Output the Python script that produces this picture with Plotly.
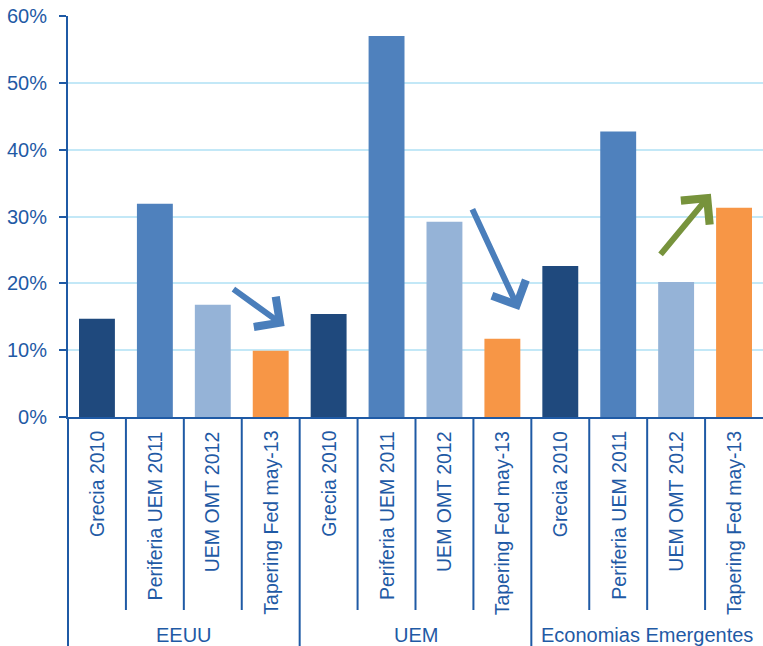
import plotly.graph_objects as go

# Regions and stress episodes shown on the category axis
regions = ["EEUU", "UEM", "Economias Emergentes"]
episodes = ["Grecia 2010", "Periferia UEM 2011", "UEM OMT 2012", "Tapering Fed may-13"]

# Values (share, 0-1) per episode, ordered by region
grecia_2010 = [0.147, 0.154, 0.226]
periferia_2011 = [0.319, 0.570, 0.427]
omt_2012 = [0.168, 0.292, 0.202]
tapering_2013 = [0.099, 0.117, 0.313]

y_ticks = [0, 0.1, 0.2, 0.3, 0.4, 0.5, 0.6]
y_tick_text = ["0%", "10%", "20%", "30%", "40%", "50%", "60%"]

episode_colors = ["#1F497D", "#4F81BD", "#95B3D7", "#F79646"]

# Trend arrows: (tail x, tail y, head x, head y, colour)
arrows = [
    (2.33, 0.193, 3.24, 0.136, "#4A7EBB"),
    (6.47, 0.313, 7.29, 0.160, "#4A7EBB"),
    (9.71, 0.241, 10.60, 0.334, "#77933C"),
]

AXIS = "#1F5AA5"
TEXT = "#1F5AA5"
FONT = "Liberation Sans, Arial, sans-serif"

n_ep = len(episodes)
series = [grecia_2010, periferia_2011, omt_2012, tapering_2013]

fig = go.Figure()
for e, (name, vals) in enumerate(zip(episodes, series)):
    fig.add_trace(go.Bar(
        x=[r * n_ep + e for r in range(len(regions))],
        y=vals,
        name=name,
        width=0.62,
        marker=dict(color=episode_colors[e], line=dict(width=0)),
        showlegend=False,
    ))

# Pixel geometry of the plot area
W, H = 763, 646
ml, mr, mt, mb = 68, 0, 16, 229
plot_h = H - mt - mb


def py(pix):
    """Convert a pixel row below the plot to a paper y coordinate."""
    return -(pix - (H - mb)) / plot_h


shapes = []
annotations = []
n_cat = len(regions) * n_ep
for k in range(1, n_cat):
    is_group = k % n_ep == 0
    shapes.append(dict(
        type="line", xref="x", yref="paper",
        x0=k - 0.5, x1=k - 0.5, y0=0,
        y1=py(646) if is_group else py(610),
        line=dict(color=AXIS, width=2),
    ))
# left axis line continues down through the label area
shapes.append(dict(type="line", xref="paper", yref="paper",
                   x0=0, x1=0, y0=0, y1=py(646),
                   line=dict(color=AXIS, width=2)))

for r, region in enumerate(regions):
    for e, ep in enumerate(episodes):
        annotations.append(dict(
            x=r * n_ep + e, y=py(429), xref="x", yref="paper",
            text=ep, textangle=-90, showarrow=False,
            xanchor="center", yanchor="top",
            font=dict(family=FONT, size=19.5, color=TEXT),
        ))
    annotations.append(dict(
        x=r * n_ep + (n_ep - 1) / 2, y=py(635), xref="x", yref="paper",
        text=region, showarrow=False, xanchor="center", yanchor="middle",
        font=dict(family=FONT, size=20, color=TEXT),
    ))

for x0, y0, x1, y1, col in arrows:
    annotations.append(dict(
        x=x1, y=y1, ax=x0, ay=y0, xref="x", yref="y", axref="x", ayref="y",
        text="", showarrow=True, arrowhead=4, arrowsize=1.2,
        arrowwidth=6, arrowcolor=col, standoff=0,
    ))

fig.update_layout(
    width=W, height=H,
    margin=dict(l=ml, r=mr, t=mt, b=mb),
    paper_bgcolor="white", plot_bgcolor="white",
    barmode="overlay",
    font=dict(family=FONT, color=TEXT),
    shapes=shapes, annotations=annotations,
    xaxis=dict(range=[-0.5, n_cat - 0.5], showticklabels=False,
               showgrid=False, zeroline=False, showline=True,
               linecolor=AXIS, linewidth=2, ticks=""),
    yaxis=dict(range=[0, 0.6], tickvals=y_ticks, ticktext=y_tick_text,
               showgrid=True, gridcolor="#C3E8F7", gridwidth=2,
               zeroline=False, showline=True, linecolor=AXIS, linewidth=2,
               ticks="outside", ticklen=7, tickcolor=AXIS, tickwidth=2,
               ticklabelstandoff=8,
               tickfont=dict(family=FONT, size=20, color=TEXT)),
)

fig.write_html("out.html")
